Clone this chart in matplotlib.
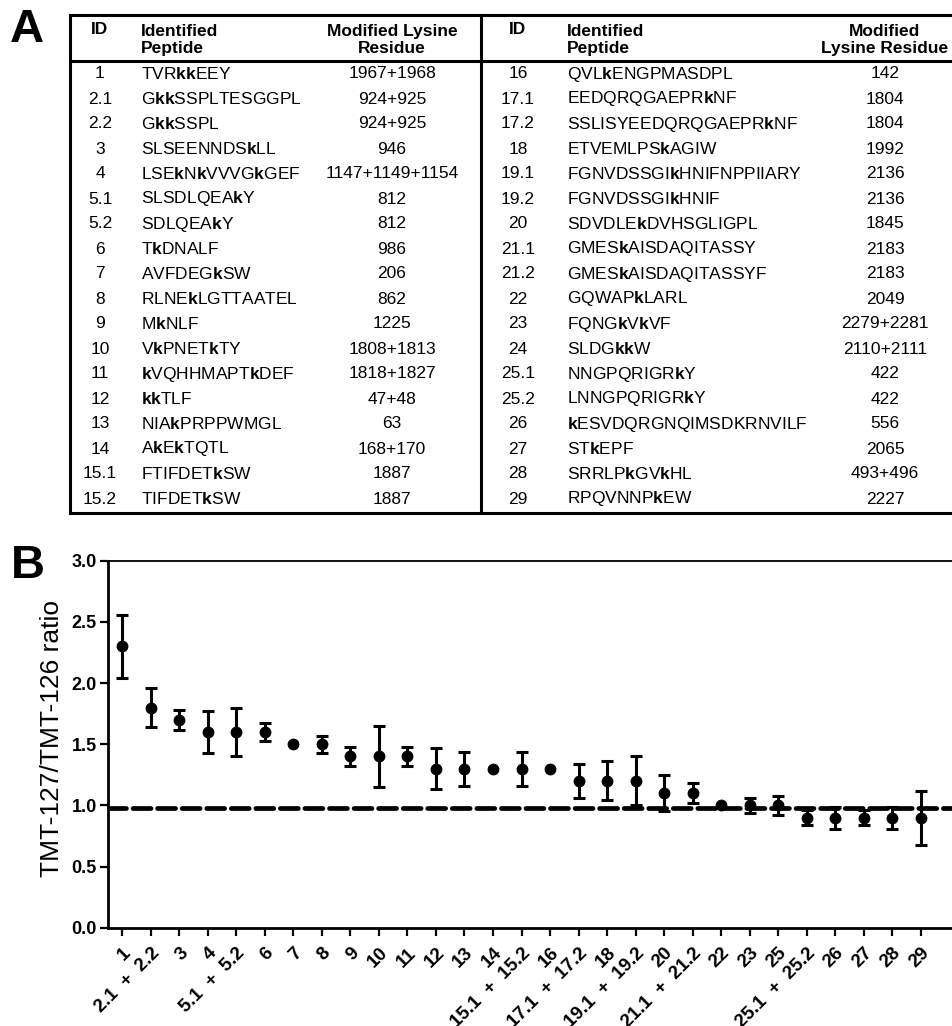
import re
import numpy as np
import matplotlib
matplotlib.use('Agg')
import matplotlib.pyplot as plt

# panel A table content
LEFT_IDS = ['1', '2.1', '2.2', '3', '4', '5.1', '5.2', '6', '7', '8', '9', '10',
            '11', '12', '13', '14', '15.1', '15.2']
LEFT_PEPTIDES = ['TVRkkEEY', 'GkkSSPLTESGGPL', 'GkkSSPL', 'SLSEENNDSkLL',
                 'LSEkNkVVVGkGEF', 'SLSDLQEAkY', 'SDLQEAkY', 'TkDNALF', 'AVFDEGkSW',
                 'RLNEkLGTTAATEL', 'MkNLF', 'VkPNETkTY', 'kVQHHMAPTkDEF', 'kkTLF',
                 'NIAkPRPPWMGL', 'AkEkTQTL', 'FTIFDETkSW', 'TIFDETkSW']
LEFT_RESIDUES = ['1967+1968', '924+925', '924+925', '946', '1147+1149+1154', '812',
                 '812', '986', '206', '862', '1225', '1808+1813', '1818+1827',
                 '47+48', '63', '168+170', '1887', '1887']

RIGHT_IDS = ['16', '17.1', '17.2', '18', '19.1', '19.2', '20', '21.1', '21.2', '22',
             '23', '24', '25.1', '25.2', '26', '27', '28', '29']
RIGHT_PEPTIDES = ['QVLkENGPMASDPL', 'EEDQRQGAEPRkNF', 'SSLISYEEDQRQGAEPRkNF',
                  'ETVEMLPSkAGIW', 'FGNVDSSGIkHNIFNPPIIARY', 'FGNVDSSGIkHNIF',
                  'SDVDLEkDVHSGLIGPL', 'GMESkAISDAQITASSY', 'GMESkAISDAQITASSYF',
                  'GQWAPkLARL', 'FQNGkVkVF', 'SLDGkkW', 'NNGPQRIGRkY', 'LNNGPQRIGRkY',
                  'kESVDQRGNQIMSDKRNVILF', 'STkEPF', 'SRRLPkGVkHL', 'RPQVNNPkEW']
RIGHT_RESIDUES = ['142', '1804', '1804', '1992', '2136', '2136', '1845', '2183',
                  '2183', '2049', '2279+2281', '2110+2111', '422', '422', '556',
                  '2065', '493+496', '2227']

# panel B values
CATEGORIES = ['1', '2.1  +  2.2', '3', '4', '5.1  +  5.2', '6', '7', '8', '9', '10',
              '11', '12', '13', '14', '15.1  +  15.2', '16', '17.1  +  17.2', '18',
              '19.1  +  19.2', '20', '21.1  +  21.2', '22', '23', '25', '25.1  +  25.2',
              '26', '27', '28', '29']
RATIO = [2.3, 1.8, 1.7, 1.6, 1.6, 1.6, 1.5, 1.5, 1.4, 1.4, 1.4, 1.3, 1.3, 1.3, 1.3,
         1.3, 1.2, 1.2, 1.2, 1.1, 1.1, 1.0, 1.0, 1.0, 0.9, 0.9, 0.9, 0.9, 0.9]
ERROR = [0.26, 0.16, 0.08, 0.17, 0.20, 0.07, 0.0, 0.07, 0.08, 0.25, 0.08, 0.17, 0.14,
         0.0, 0.14, 0.0, 0.14, 0.16, 0.20, 0.15, 0.08, 0.0, 0.06, 0.08, 0.06, 0.09,
         0.06, 0.09, 0.22]
BASELINE = 0.975

plt.rcParams.update({
    'font.family': ['Liberation Sans', 'DejaVu Sans'],
    'mathtext.fontset': 'custom',
    'mathtext.rm': 'Liberation Sans',
    'mathtext.bf': 'Liberation Sans:bold',
    'mathtext.it': 'Liberation Sans:italic',
})

W, H = 952, 1026
fig = plt.figure(figsize=(W / 100, H / 100), dpi=100, facecolor='white')


def bold_k(pep):
    # lowercase k marks the modified lysine, shown in bold
    return re.sub(r'(k+)', r'$\\mathbf{\1}$', pep)


# ---------------- panel A: table ----------------
tab = fig.add_axes([0, 0, 1, 1])
tab.set_xlim(0, W)
tab.set_ylim(H, 0)
tab.axis('off')

x0, xmid, x1 = 70, 481, 965
y0, yhdr, y1 = 15, 61, 513
lw_box = 2.2
tab.plot([x0, x1], [y0, y0], color='black', lw=lw_box, solid_capstyle='projecting')
tab.plot([x0, x1], [y1, y1], color='black', lw=lw_box, solid_capstyle='projecting')
tab.plot([x0, x0], [y0, y1], color='black', lw=lw_box, solid_capstyle='projecting')
tab.plot([xmid, xmid], [y0, y1], color='black', lw=lw_box)
tab.plot([x0, x1], [yhdr, yhdr], color='black', lw=lw_box)

fs = 12.5
halves = [
    (100, 141, 392, LEFT_IDS, LEFT_PEPTIDES, LEFT_RESIDUES, 'Modified Lysine\nResidue'),
    (518, 567, 885, RIGHT_IDS, RIGHT_PEPTIDES, RIGHT_RESIDUES, 'Modified\nLysine Residue'),
]
for xid, xpep, xres, ids, peps, ress, res_head in halves:
    tab.text(xid, 30, 'ID', ha='center', va='center', fontsize=fs, fontweight='bold')
    tab.text(xpep, 40, 'Identified\nPeptide', ha='left', va='center', fontsize=fs,
             fontweight='bold', linespacing=1.15)
    tab.text(xres, 40, res_head, ha='center', va='center', fontsize=fs,
             fontweight='bold', linespacing=1.15)
    for i, (pid, pep, res) in enumerate(zip(ids, peps, ress)):
        y = 74 + i * 25
        tab.text(xid, y, pid, ha='center', va='center', fontsize=fs)
        tab.text(xpep, y, bold_k(pep), ha='left', va='center', fontsize=fs)
        tab.text(xres, y, res, ha='center', va='center', fontsize=fs)

fig.text(10 / W, 1 - 30 / H, 'A', fontsize=34, fontweight='bold', va='center', ha='left')
fig.text(11 / W, 1 - 566 / H, 'B', fontsize=34, fontweight='bold', va='center', ha='left')

# ---------------- panel B: ratios ----------------
ax_l, ax_t, ax_b = 108, 560.7, 927.7
step = 28.52
n = len(CATEGORIES)
ax = fig.add_axes([ax_l / W, 1 - ax_b / H, (n + 1) * step / W, (ax_b - ax_t) / H])

x = np.arange(n)
ratio = np.array(RATIO)
err = np.array(ERROR)
has_err = err > 0

ax.axhline(BASELINE, color='black', lw=3.4, linestyle=(0, (3.8, 1.4)),
           dash_capstyle='round', zorder=1)
ax.errorbar(x[has_err], ratio[has_err], yerr=err[has_err], fmt='none',
            ecolor='black', elinewidth=2.2, capsize=4, capthick=2.2, zorder=3)
ax.plot(x, ratio, 'o', color='black', markersize=7.5, zorder=4)

ax.set_xlim(-0.5, n + 0.5)
ax.set_ylim(0, 3.0)
ax.set_yticks(np.arange(0, 3.01, 0.5))
ax.set_yticklabels([f'{v:.1f}' for v in np.arange(0, 3.01, 0.5)],
                   fontsize=13, fontweight='bold')
ax.set_xticks(x)
ax.set_xticklabels(CATEGORIES, rotation=45, ha='right', va='top',
                   rotation_mode='anchor', fontsize=13.5, fontweight='bold')
ax.tick_params(axis='both', direction='out', length=6, width=1.6, color='black')
ax.tick_params(axis='x', pad=6)
ax.tick_params(axis='y', pad=2)

ax.set_ylabel('TMT-127/TMT-126 ratio', fontsize=19)
ax.yaxis.set_label_coords(-0.052, 0.515)

ax.spines['left'].set_linewidth(2.0)
ax.spines['bottom'].set_linewidth(2.0)
ax.spines['top'].set_linewidth(1.3)
ax.spines['right'].set_visible(False)

fig.savefig('out.png', dpi=100, facecolor='white')
